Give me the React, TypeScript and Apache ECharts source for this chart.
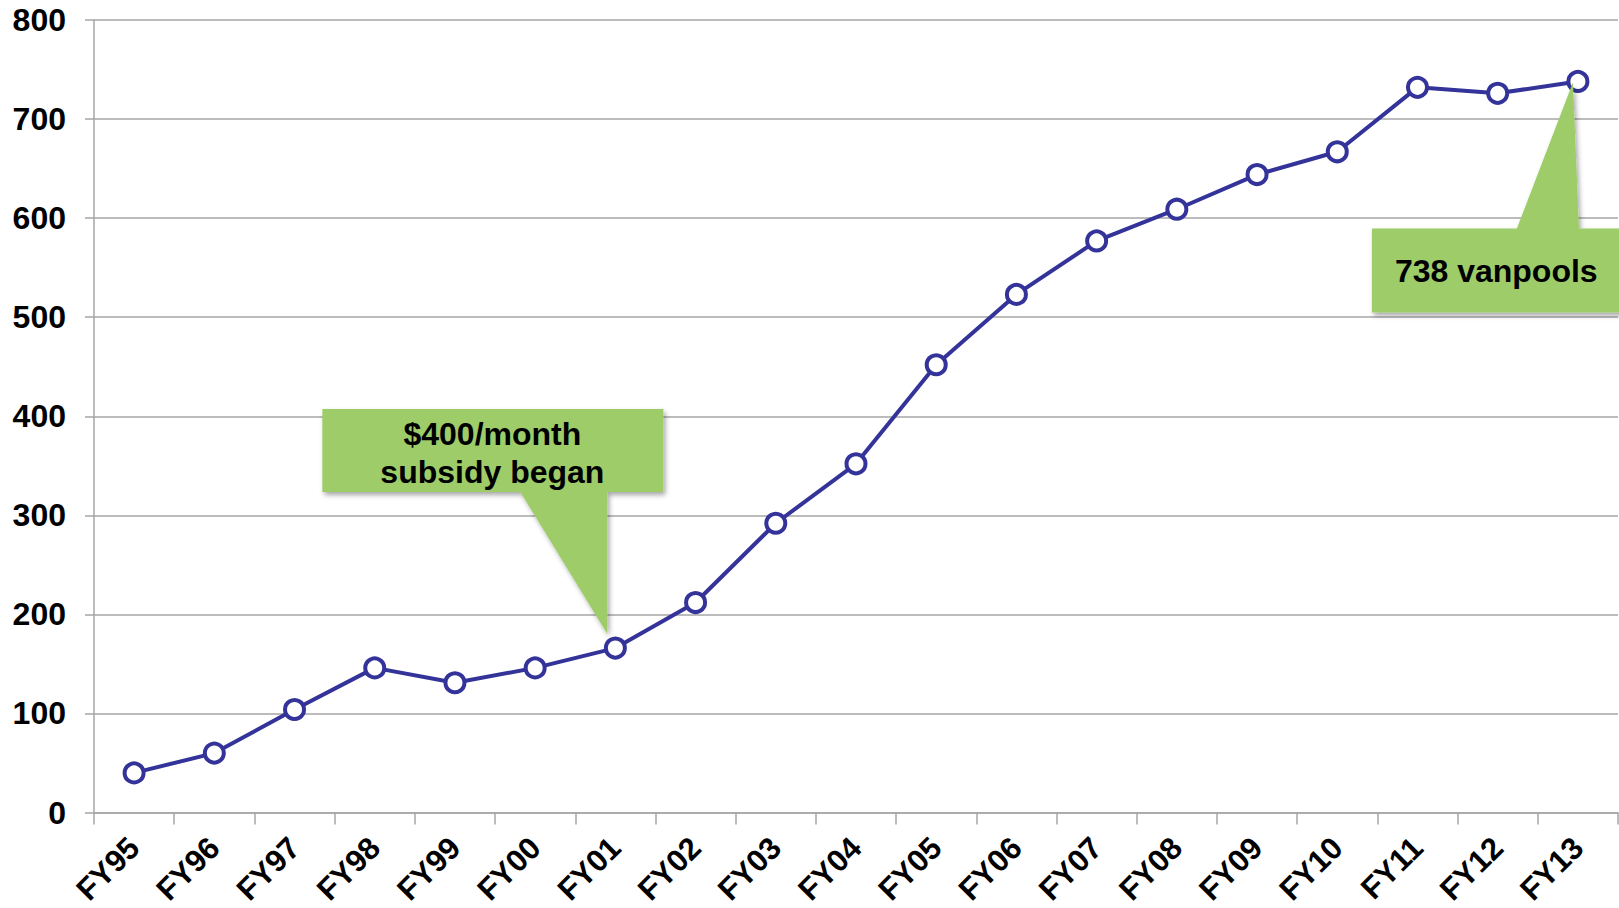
import React, { useEffect, useRef } from "react";
import * as echarts from "echarts";

const categories = ["FY95","FY96","FY97","FY98","FY99","FY00","FY01","FY02","FY03","FY04","FY05","FY06","FY07","FY08","FY09","FY10","FY11","FY12","FY13"];
const vanpools = [40, 60, 104, 146, 131, 146, 166, 212, 292, 352, 452, 523, 577, 609, 644, 667, 732, 726, 738];
const yTicks = { min: 0, max: 800, interval: 100 };
const calloutTexts = ["$400/month\nsubsidy began", "738 vanpools"];

const GREEN = "#9dcc68";
const BLUE = "#333399";
const GRAY = "#a6a6a6";
const FONT = "'Liberation Sans', Arial, sans-serif";

export default function App() {
  const ref = useRef<HTMLDivElement>(null);
  useEffect(() => {
    const chart = echarts.init(ref.current!, null, { renderer: "svg" });
    chart.setOption({
      animation: false,
      backgroundColor: "#ffffff",
      grid: { left: 94, right: 1, top: 20, bottom: 95, containLabel: false },
      xAxis: {
        type: "category",
        data: categories,
        boundaryGap: true,
        axisLine: { lineStyle: { color: GRAY, width: 1.5 } },
        axisTick: { show: true, length: 12, lineStyle: { color: GRAY, width: 1.5 } },
        axisLabel: {
          interval: 0,
          rotate: 45,
          margin: 30,
          fontFamily: FONT,
          fontWeight: "bold",
          fontSize: 31,
          color: "#000",
        },
      },
      yAxis: {
        type: "value",
        min: yTicks.min,
        max: yTicks.max,
        interval: yTicks.interval,
        axisLine: { show: true, lineStyle: { color: GRAY, width: 1.5 } },
        axisTick: { show: true, length: 9, lineStyle: { color: GRAY, width: 1.5 } },
        splitLine: { lineStyle: { color: GRAY, width: 1.5 } },
        axisLabel: {
          margin: 28,
          fontFamily: FONT,
          fontWeight: "bold",
          fontSize: 32,
          color: "#000",
        },
      },
      series: [
        {
          type: "line",
          data: vanpools,
          symbol: "circle",
          symbolSize: 19,
          lineStyle: { color: BLUE, width: 4 },
          itemStyle: { color: "#fff", borderColor: BLUE, borderWidth: 4 },
          z: 3,
        },
      ],
    });

    const p1 = chart.convertToPixel({ seriesIndex: 0 }, [6, vanpools[6]]) as number[];
    const p2 = chart.convertToPixel({ seriesIndex: 0 }, [18, vanpools[18]]) as number[];

    const t1 = [p1[0] - 8, p1[1] - 14];
    const t2 = [p2[0] - 5, p2[1] + 1];

    const shadow = {
      shadowBlur: 5,
      shadowOffsetX: 2,
      shadowOffsetY: 3,
      shadowColor: "rgba(0,0,0,0.35)",
    };

    const c1 = [
      [t1[0] - 285, t1[1] - 225],
      [t1[0] + 56, t1[1] - 225],
      [t1[0] + 56, t1[1] - 142],
      [t1[0], t1[1] - 142],
      [t1[0], t1[1]],
      [t1[0] - 87, t1[1] - 142],
      [t1[0] - 285, t1[1] - 142],
    ];
    const c2 = [
      [t2[0] - 201, t2[1] + 146],
      [t2[0] - 56, t2[1] + 146],
      [t2[0], t2[1]],
      [t2[0] + 6, t2[1] + 146],
      [t2[0] + 80, t2[1] + 146],
      [t2[0] + 80, t2[1] + 230],
      [t2[0] - 201, t2[1] + 230],
    ];

    chart.setOption({
      graphic: [
        {
          type: "polygon",
          shape: { points: c1 },
          style: { fill: GREEN, ...shadow },
          z: 10,
        },
        {
          type: "text",
          x: t1[0] - 115,
          y: t1[1] - 181,
          style: {
            text: calloutTexts[0],
            fill: "#000",
            font: `bold 32px ${FONT}`,
            textAlign: "center",
            textVerticalAlign: "middle",
            lineHeight: 38,
          },
          z: 11,
        },
        {
          type: "polygon",
          shape: { points: c2 },
          style: { fill: GREEN, ...shadow },
          z: 10,
        },
        {
          type: "text",
          x: t2[0] - 178,
          y: t2[1] + 189,
          style: {
            text: calloutTexts[1],
            fill: "#000",
            font: `bold 32px ${FONT}`,
            textAlign: "left",
            textVerticalAlign: "middle",
          },
          z: 11,
        },
      ],
    });

    return () => chart.dispose();
  }, []);
  return (
    <div
      ref={ref}
      style={{ position: "fixed", left: 0, top: 0, width: 1619, height: 908 }}
    />
  );
}
